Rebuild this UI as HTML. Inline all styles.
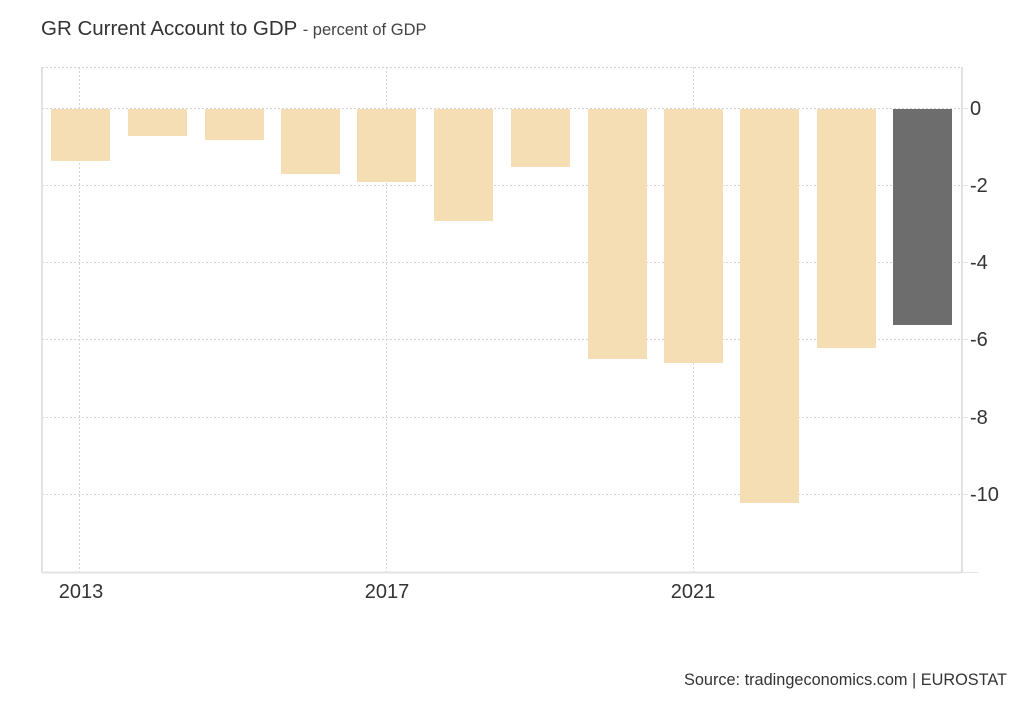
<!DOCTYPE html>
<html><head><meta charset="utf-8"><style>
body{margin:0;background:#fff;width:1024px;height:700px;overflow:hidden;font-family:"Liberation Sans",Arial,sans-serif}
</style></head><body>
<svg width="1024" height="700" xmlns="http://www.w3.org/2000/svg" font-family="Liberation Sans, Arial, sans-serif">
<text x="41" y="35" font-size="20.5" fill="#333">GR Current Account to GDP <tspan font-size="16.5" fill="#444">- percent of GDP</tspan></text>
<g stroke="#d4d4d4" stroke-dasharray="2,2" stroke-width="1">
<line x1="42" y1="67.5" x2="962" y2="67.5"/>
<line x1="42" y1="108.5" x2="962" y2="108.5"/>
<line x1="42" y1="185.5" x2="962" y2="185.5"/>
<line x1="42" y1="262.5" x2="962" y2="262.5"/>
<line x1="42" y1="339.5" x2="962" y2="339.5"/>
<line x1="42" y1="417.5" x2="962" y2="417.5"/>
<line x1="42" y1="494.5" x2="962" y2="494.5"/>
<line x1="79.5" y1="67" x2="79.5" y2="572"/>
<line x1="386.5" y1="67" x2="386.5" y2="572"/>
<line x1="693.5" y1="67" x2="693.5" y2="572"/>
</g>
<g fill="#f5deb3">
<rect x="51" y="109" width="59" height="52"/>
<rect x="128" y="109" width="59" height="27"/>
<rect x="205" y="109" width="59" height="31"/>
<rect x="281" y="109" width="59" height="65"/>
<rect x="357" y="109" width="59" height="73"/>
<rect x="434" y="109" width="59" height="112"/>
<rect x="511" y="109" width="59" height="58"/>
<rect x="588" y="109" width="59" height="250"/>
<rect x="664" y="109" width="59" height="254"/>
<rect x="740" y="109" width="59" height="394"/>
<rect x="817" y="109" width="59" height="239"/>
</g>
<rect x="893" y="109" width="59" height="216" fill="#6d6d6d"/>
<g stroke="#e2e2e2" stroke-width="2">
<line x1="42" y1="67" x2="42" y2="573"/>
<line x1="42" y1="572.5" x2="962" y2="572.5"/>
<line x1="962" y1="67" x2="962" y2="573"/>
</g>
<g stroke="#e2e2e2" stroke-width="1">
<line x1="962" y1="572.5" x2="978" y2="572.5"/>
<line x1="962" y1="108.5" x2="968" y2="108.5"/>
<line x1="962" y1="185.5" x2="968" y2="185.5"/>
<line x1="962" y1="262.5" x2="968" y2="262.5"/>
<line x1="962" y1="339.5" x2="968" y2="339.5"/>
<line x1="962" y1="417.5" x2="968" y2="417.5"/>
<line x1="962" y1="494.5" x2="968" y2="494.5"/>
</g>
<g font-size="20" fill="#333">
<text x="970" y="115">0</text>
<text x="970" y="192">-2</text>
<text x="970" y="269">-4</text>
<text x="970" y="346">-6</text>
<text x="970" y="424">-8</text>
<text x="970" y="501">-10</text>
<text x="81" y="598" text-anchor="middle">2013</text>
<text x="387" y="598" text-anchor="middle">2017</text>
<text x="693" y="598" text-anchor="middle">2021</text>
</g>
<text x="1007" y="685" font-size="16.3" fill="#333" text-anchor="end">Source: tradingeconomics.com | EUROSTAT</text>
</svg>
</body></html>
